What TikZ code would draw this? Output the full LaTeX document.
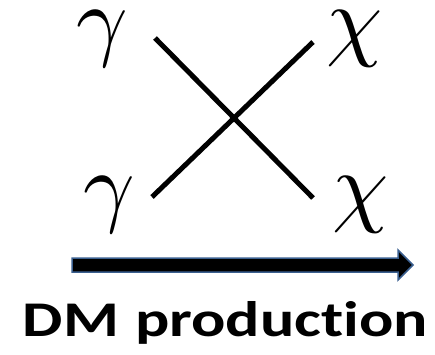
\documentclass[tikz,border=0pt]{standalone}
\usepackage{fontspec}
\newfontfamily\labelfont[Ligatures=NoCommon]{Carlito}
\newcommand{\bigsym}[1]{\scalebox{9}{$#1$}}
\begin{document}
\begin{tikzpicture}[x=1pt,y=-1pt,
  particle/.style={inner sep=0pt,outer sep=0pt},
  propagator/.style={line width=5pt,black},
  flowarrow/.style={fill=black,draw=arrowblue,line width=1.5pt,line join=miter},
  caption/.style={inner sep=0pt,anchor=base,font=\labelfont\bfseries\fontsize{64}{64}\selectfont}]
\definecolor{arrowblue}{HTML}{3A5F8F}
\useasboundingbox (0,0) rectangle (435,354);
\node[particle] (g1) at (102.5,39) {\bigsym{\gamma}};
\node[particle] (g2) at (109,205) {\bigsym{\gamma}};
\node[particle] (c1) at (354.5,39) {\bigsym{\chi}};
\node[particle] (c2) at (360.5,205) {\bigsym{\chi}};
\coordinate (a1) at (155,38);
\coordinate (b2) at (313,198);
\coordinate (a2) at (152,197);
\coordinate (b1) at (313,42);
\draw[propagator] (a1) -- (b2);
\draw[propagator] (a2) -- (b1);
\coordinate (t0) at (72,258);
\coordinate (t1) at (398,258);
\coordinate (t2) at (398,250);
\coordinate (tip) at (413,265);
\coordinate (t3) at (398,280);
\coordinate (t4) at (398,272);
\coordinate (t5) at (72,272);
\draw[flowarrow] (t0) -- (t1) -- (t2) -- (tip) -- (t3) -- (t4) -- (t5) -- cycle;
\node[caption] (cap) at (225.5,336) {\scalebox{1}[0.78]{DM\hspace{16pt}production}};
\end{tikzpicture}
\end{document}
